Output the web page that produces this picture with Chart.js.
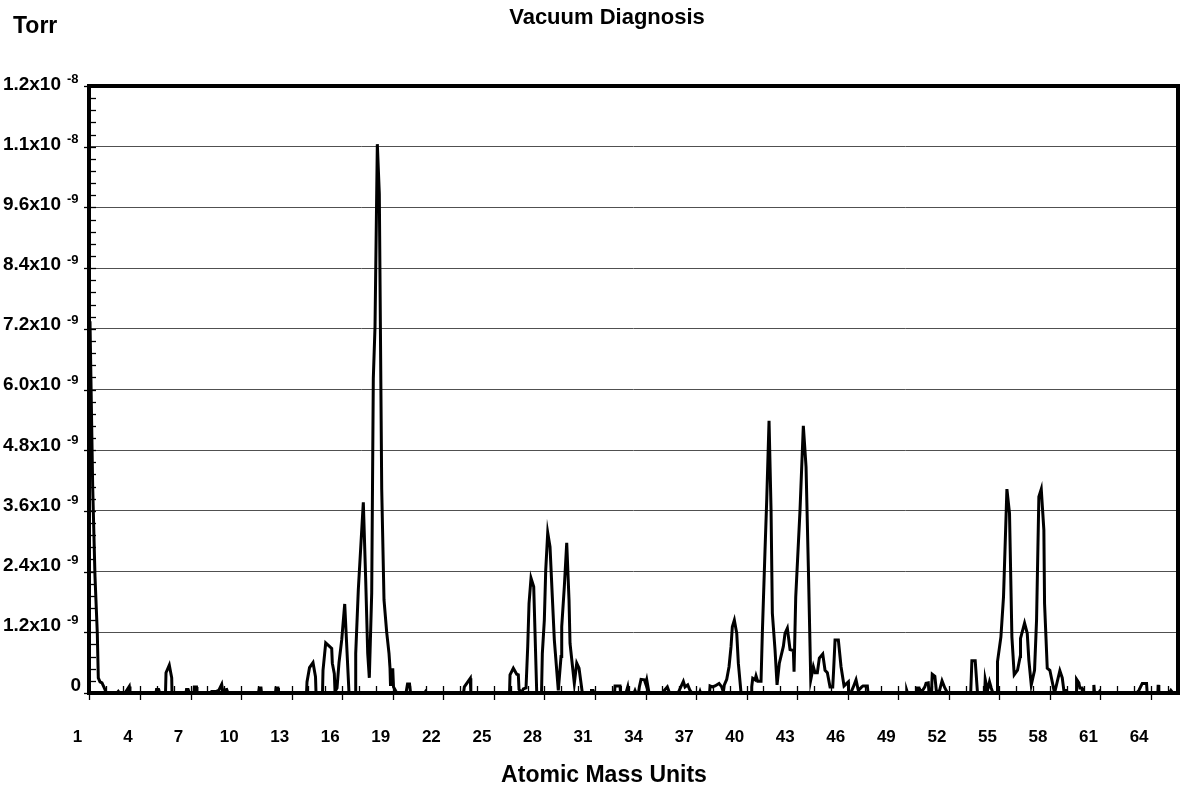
<!DOCTYPE html>
<html>
<head>
<meta charset="utf-8">
<title>Vacuum Diagnosis</title>
<script src="https://cdn.jsdelivr.net/npm/chart.js@4/dist/chart.umd.min.js"></script>
<style>
  html, body { margin: 0; padding: 0; background: #ffffff; }
  canvas { display: block; }
</style>
</head>
<body>
<canvas id="rga" width="1183" height="788"></canvas>
<script>
// Residual gas scan: mass position (AMU) and partial pressure (units of 1e-9 Torr)
const amu = [
  1.534, 1.694, 1.831, 1.967, 2.027, 2.128, 2.246, 2.383, 2.484, 2.602,
  3.137, 3.214, 3.285, 3.611, 3.866, 3.908, 5.451, 5.481, 5.599, 5.629,
  6.015, 6.045, 6.240, 6.383, 6.401, 7.231, 7.261, 7.350, 7.380, 7.706,
  7.724, 7.855, 7.884, 8.715, 8.774, 9.012, 9.190, 9.350, 9.398, 9.647,
  9.724, 11.534, 11.582, 11.682, 11.712, 12.543, 12.573, 12.691, 12.721, 14.383,
  14.412, 14.561, 14.769, 14.917, 14.947, 15.332, 15.362, 15.522, 15.878, 15.914,
  16.033, 16.074, 16.193, 16.311, 16.472, 16.650, 16.905, 17.261, 17.303, 17.457,
  17.754, 17.896, 18.015, 18.110, 18.252, 18.347, 18.448, 18.585, 18.703, 18.846,
  18.982, 19.142, 19.279, 19.338, 19.368, 19.499, 19.546, 19.677, 19.754, 20.288,
  20.377, 20.496, 20.555, 21.386, 21.445, 21.504, 23.700, 23.748, 24.104, 24.134,
  26.430, 26.460, 26.656, 26.858, 26.953, 26.994, 27.154, 27.249, 27.409, 27.510,
  27.588, 27.706, 27.866, 28.045, 28.329, 28.377, 28.496, 28.579, 28.697, 28.834,
  28.970, 29.089, 29.326, 29.487, 29.528, 29.682, 29.825, 29.961, 30.021, 30.276,
  30.418, 30.555, 30.751, 31.267, 31.297, 31.386, 31.415, 32.662, 32.691, 32.988,
  33.018, 33.344, 33.445, 33.493, 33.819, 33.878, 33.938, 34.086, 34.134, 34.234,
  34.430, 34.513, 34.573, 34.709, 35.481, 35.795, 35.926, 36.430, 36.745, 36.846,
  37.006, 37.142, 37.261, 37.706, 37.736, 37.766, 38.300, 38.330, 38.466, 38.627,
  38.864, 39.024, 39.119, 39.178, 39.320, 39.457, 39.576, 39.653, 39.772, 39.914,
  40.009, 40.169, 40.775, 40.804, 40.863, 41.000, 41.059, 41.160, 41.356, 41.433,
  41.593, 41.694, 41.831, 41.950, 42.027, 42.187, 42.306, 42.442, 42.680, 42.780,
  42.917, 43.077, 43.273, 43.315, 43.415, 43.670, 43.866, 44.027, 44.163, 44.306,
  44.460, 44.561, 44.697, 44.816, 45.018, 45.154, 45.291, 45.451, 45.611, 45.659,
  45.748, 45.944, 46.104, 46.282, 46.537, 46.549, 46.679, 46.833, 46.993, 47.130,
  47.332, 47.409, 47.665, 47.706, 49.961, 50.003, 50.050, 50.555, 50.585, 50.733,
  50.763, 50.941, 51.077, 51.148, 51.279, 51.326, 51.475, 51.516, 51.671, 51.772,
  51.950, 52.098, 52.264, 52.424, 53.798, 53.869, 54.065, 54.202, 54.629, 54.659,
  54.795, 54.914, 55.015, 55.116, 55.371, 55.389, 55.591, 55.745, 55.947, 56.101,
  56.243, 56.380, 56.576, 56.736, 56.754, 56.994, 57.154, 57.249, 57.392, 57.587,
  57.706, 57.843, 57.985, 58.140, 58.181, 58.341, 58.496, 58.774, 59.089, 59.231,
  59.326, 59.487, 59.546, 60.050, 60.080, 60.217, 60.276, 60.407, 60.436, 61.077,
  61.107, 61.148, 61.386, 61.445, 61.504, 63.641, 63.777, 63.979, 64.234, 64.270,
  64.905, 64.923, 64.964, 65.588, 65.677, 65.796, 66.100
];
const pressureE9 = [
  7.35, 4.07, 2.30, 1.19, 0.30, 0.22, 0.20, 0.10, 0.02, 0,
  0, 0.03, 0, 0, 0.13, 0, 0, 0.07, 0.07, 0,
  0, 0.40, 0.55, 0.30, 0, 0, 0.07, 0.07, 0, 0,
  0.12, 0.12, 0, 0, 0.03, 0.03, 0.06, 0.17, 0.05, 0.07,
  0, 0, 0.10, 0.10, 0, 0, 0.10, 0.10, 0, 0,
  0.22, 0.50, 0.60, 0.32, 0, 0, 0.45, 0.99, 0.88, 0.59,
  0.38, 0.03, 0.10, 0.60, 1.05, 1.76, 0, 0, 0.78, 2.04,
  3.77, 2.23, 0.78, 0.30, 1.98, 6.22, 7.24, 10.85, 9.87, 4.03,
  1.84, 1.20, 0.78, 0.49, 0.14, 0.49, 0.12, 0.04, 0, 0,
  0.18, 0.18, 0, 0, 0.03, 0, 0, 0.12, 0.29, 0,
  0, 0.36, 0.49, 0.37, 0.36, 0.07, 0.01, 0.08, 0.10, 0.92,
  1.77, 2.27, 2.10, 0, 0, 0.78, 1.44, 2.43, 3.17, 2.89,
  1.90, 1.05, 0.05, 0.72, 1.31, 2.10, 2.97, 1.84, 0.98, 0.19,
  0.59, 0.49, 0, 0, 0.05, 0.05, 0, 0, 0.14, 0.14,
  0, 0, 0.12, 0, 0, 0.05, 0, 0, 0.12, 0.27,
  0.26, 0.18, 0.26, 0, 0, 0.12, 0, 0, 0.23, 0.12,
  0.16, 0.05, 0, 0, 0.03, 0, 0, 0.14, 0.12, 0.14,
  0.19, 0.12, 0.02, 0.16, 0.27, 0.52, 0.92, 1.31, 1.44, 1.18,
  0.59, 0, 0, 0.12, 0.29, 0.26, 0.34, 0.23, 0.23, 1.18,
  2.83, 3.82, 5.38, 3.62, 1.58, 0.85, 0.16, 0.59, 0.92, 1.18,
  1.28, 0.86, 0.84, 0.42, 1.90, 3.62, 5.28, 4.47, 2.50, 0.26,
  0.52, 0.40, 0.40, 0.69, 0.77, 0.45, 0.40, 0.12, 0.12, 0.42,
  1.05, 1.05, 0.52, 0.14, 0.22, 0.02, 0, 0.12, 0.26, 0.05,
  0.12, 0.14, 0.14, 0, 0, 0.05, 0, 0, 0.10, 0.10,
  0.05, 0.05, 0.12, 0.19, 0.20, 0, 0.05, 0.37, 0.33, 0,
  0.05, 0.24, 0.10, 0, 0, 0.64, 0.64, 0, 0, 0.27,
  0.05, 0.22, 0.10, 0, 0, 0.62, 1.11, 1.90, 4.03, 3.55,
  1.11, 0.36, 0.45, 0.72, 1.08, 1.38, 1.18, 0.65, 0.16, 0.45,
  1.44, 3.88, 4.03, 3.22, 1.77, 0.49, 0.45, 0, 0.44, 0.30,
  0.05, 0.05, 0, 0, 0.27, 0.20, 0.10, 0.10, 0, 0,
  0.16, 0, 0, 0.03, 0, 0, 0.05, 0.19, 0.19, 0,
  0, 0.16, 0, 0, 0.05, 0, 0
];

// Axis definitions
const yTickValues = [0, 1.2e-9, 2.4e-9, 3.6e-9, 4.8e-9, 6.0e-9, 7.2e-9, 8.4e-9, 9.6e-9, 1.08e-8, 1.2e-8];
const yMinorStep = 0.24e-9;
const xTickLabels = [1, 4, 7, 10, 13, 16, 19, 22, 25, 28, 31, 34, 37, 40, 43, 46, 49, 52, 55, 58, 61, 64];
const xMin = 1.475, xMax = 66.1;
const xFirstTick = 1.5, xMajorEvery = 3;

const FONT = '"Liberation Sans", Arial, Helvetica, sans-serif';

const points = amu.map((m, i) => ({ x: m, y: pressureE9[i] * 1e-9 }));

function sciParts(v) {
  const e = Math.floor(Math.log10(v) + 1e-9);
  return { mant: (v / Math.pow(10, e)).toFixed(1), exp: String(e) };
}

// Frame, tick marks and all labels
const decorations = {
  id: 'decorations',
  afterDraw(chart) {
    const { ctx, chartArea: a, scales: { x, y } } = chart;
    ctx.save();
    ctx.strokeStyle = '#000';
    ctx.fillStyle = '#000';

    // y minor ticks (inside) and major ticks (outside)
    ctx.lineWidth = 1.3;
    const yMax = yTickValues[yTickValues.length - 1];
    for (let v = 0; v <= yMax + 1e-15; v += yMinorStep) {
      const py = Math.round(y.getPixelForValue(v)) + 0.5;
      ctx.beginPath(); ctx.moveTo(a.left, py); ctx.lineTo(a.left + 7, py); ctx.stroke();
    }
    yTickValues.forEach(v => {
      const py = Math.round(y.getPixelForValue(v)) + 0.5;
      ctx.beginPath(); ctx.moveTo(a.left - 5, py); ctx.lineTo(a.left, py); ctx.stroke();
    });

    // x ticks: one per mass unit inside, crossing marks every third
    for (let k = 0; xFirstTick + k <= xMax; k++) {
      const px = Math.round(x.getPixelForValue(xFirstTick + k)) + 0.5;
      const major = k % xMajorEvery === 0;
      ctx.beginPath();
      ctx.moveTo(px, a.bottom - 7);
      ctx.lineTo(px, major ? a.bottom + 7 : a.bottom);
      ctx.stroke();
    }

    // heavy plot frame
    ctx.lineWidth = 4;
    ctx.strokeRect(a.left, a.top, a.right - a.left, a.bottom - a.top);

    // y labels
    ctx.textBaseline = 'middle';
    yTickValues.forEach(v => {
      const py = y.getPixelForValue(v) - 1.5 - 5.5 * (1 - v / yMax);
      if (v === 0) {
        ctx.font = 'bold 19px ' + FONT;
        ctx.textAlign = 'right';
        ctx.fillText('0', 81, py);
        return;
      }
      const p = sciParts(v);
      ctx.font = 'bold 19px ' + FONT;
      ctx.textAlign = 'right';
      ctx.fillText(p.mant + 'x10', 61, py);
      ctx.font = 'bold 13px ' + FONT;
      ctx.textAlign = 'left';
      ctx.fillText(p.exp, 67, py - 5);
    });

    // x labels, set slightly left of their mass position
    ctx.font = 'bold 17px ' + FONT;
    ctx.textAlign = 'center';
    ctx.textBaseline = 'alphabetic';
    xTickLabels.forEach(n => {
      ctx.fillText(String(n), x.getPixelForValue(n) - 3.5, 742);
    });

    // titles
    ctx.font = 'bold 22px ' + FONT;
    ctx.textAlign = 'center';
    ctx.fillText('Vacuum Diagnosis', 607, 24);
    ctx.textAlign = 'left';
    ctx.font = 'bold 23px ' + FONT;
    ctx.fillText('Torr', 13, 33);
    ctx.textAlign = 'center';
    ctx.fillText('Atomic Mass Units', 604, 782);
    ctx.restore();
  }
};

new Chart(document.getElementById('rga'), {
  type: 'line',
  data: {
    datasets: [{
      label: 'Torr',
      data: points,
      borderColor: '#000',
      borderWidth: 3,
      pointRadius: 0,
      tension: 0,
      fill: false
    }]
  },
  options: {
    responsive: false,
    devicePixelRatio: 1,
    animation: false,
    layout: { padding: { left: 89, top: 86, right: 5, bottom: 95 } },
    plugins: { legend: { display: false }, tooltip: { enabled: false }, title: { display: false } },
    scales: {
      x: {
        type: 'linear',
        min: xMin,
        max: xMax,
        grid: { display: false, drawTicks: false },
        border: { display: false },
        ticks: { display: false }
      },
      y: {
        type: 'linear',
        min: 0,
        max: 1.2e-8,
        afterBuildTicks: scale => { scale.ticks = yTickValues.map(v => ({ value: v })); },
        grid: { color: '#505050', lineWidth: 1, drawTicks: false },
        border: { display: false },
        ticks: { display: false }
      }
    }
  },
  plugins: [decorations]
});
</script>
</body>
</html>
